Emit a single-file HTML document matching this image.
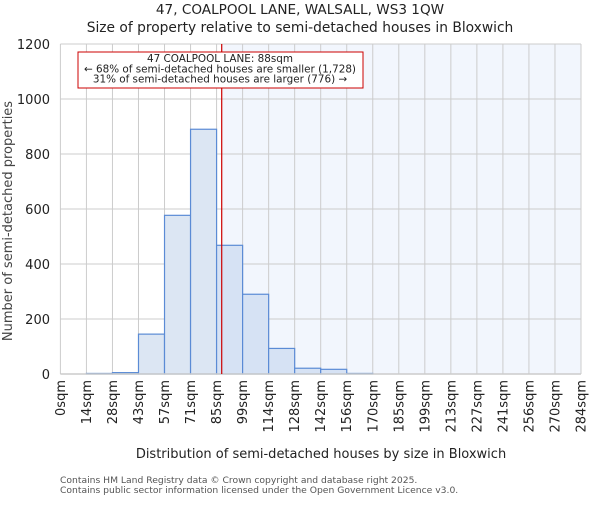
<!DOCTYPE html>
<html><head><meta charset="utf-8"><style>
body{margin:0;background:#fff;width:600px;height:500px;overflow:hidden}
svg text{font-family:"DejaVu Sans","Liberation Sans",sans-serif}
</style></head><body>
<svg id="chart" width="600" height="500" xmlns="http://www.w3.org/2000/svg">
<text x="300" y="14" text-anchor="middle" font-size="13.6" fill="#222">47, COALPOOL LANE, WALSALL, WS3 1QW</text>
<text x="300" y="32" text-anchor="middle" font-size="13.8" fill="#222">Size of property relative to semi-detached houses in Bloxwich</text>
<g id="plot"></g>
<text transform="translate(12,221) rotate(-90)" text-anchor="middle" font-size="13" fill="#444">Number of semi-detached properties</text>
<text x="321" y="458" text-anchor="middle" font-size="13" fill="#222">Distribution of semi-detached houses by size in Bloxwich</text>
<text x="60" y="483" font-size="9.2" fill="#555">Contains HM Land Registry data © Crown copyright and database right 2025.</text>
<text x="60" y="493" font-size="9.2" fill="#555">Contains public sector information licensed under the Open Government Licence v3.0.</text>
</svg>
<script>
const binEdges=[0,14,28,43,57,71,85,99,114,128,142,156,170,185,199,213,227,241,256,270,284];
const tickLabels=["0sqm","14sqm","28sqm","43sqm","57sqm","71sqm","85sqm","99sqm","114sqm","128sqm","142sqm","156sqm","170sqm","185sqm","199sqm","213sqm","227sqm","241sqm","256sqm","270sqm","284sqm"];
const counts=[0,2,5,145,577,890,468,290,93,21,17,2,0,0,0,0,0,0,0,0];
const yTicks=[0,200,400,600,800,1000,1200];
const propertySize=88;
const xMax=284, yMax=1200;
const L=60.4,R=581,T=44,B=374;
const NS="http://www.w3.org/2000/svg";
const g=document.getElementById('plot');
function xs(i){return L+(R-L)*i/(binEdges.length-1);}
function xv(v){return L+(R-L)*v/xMax;}
function ys(v){return B-(B-T)*v/yMax;}
function mk(t,a){const e=document.createElementNS(NS,t);for(const k in a)e.setAttribute(k,a[k]);g.appendChild(e);return e;}
const px=xv(propertySize);
let e=mk('rect',{x:px,y:T,width:R-px,height:B-T,fill:'#f2f6fd'});


yTicks.forEach(t=>{
 let l=mk('line',{x1:L,x2:R,y1:ys(t),y2:ys(t),stroke:'#ccc','stroke-width':1});
 
 
 let tx=mk('text',{x:50,y:ys(t)+5,'text-anchor':'end','font-size':13,fill:'#222'});
 tx.textContent=t;
 
 
});
binEdges.forEach((b,i)=>{
 let l=mk('line',{x1:xs(i),x2:xs(i),y1:T,y2:B,stroke:'#ccc','stroke-width':1});
 
 
 let tx=mk('text',{transform:`translate(${xs(i)+4.5},${B+6}) rotate(-90)`,'text-anchor':'end','font-size':13,fill:'#222'});
 tx.textContent=tickLabels[i];
 
 
});
counts.forEach((c,i)=>{
 if(c<=0)return;
 const x0=xs(i),x1=xs(i+1);
 let r=mk('rect',{x:x0,y:ys(c),width:x1-x0,height:B-ys(c),fill:x0>=px-10?'#d6e2f4':'#dce6f3',stroke:'#5b8bd5','stroke-width':1.2});
 
 
});
let ax=mk('line',{x1:L,x2:R,y1:B,y2:B,stroke:'#ccc','stroke-width':1.5});


let rl=mk('line',{x1:px,x2:px,y1:T,y2:B,stroke:'#c00','stroke-width':1.2});


let bx=mk('rect',{x:78,y:52,width:285,height:36,fill:'#fff',stroke:'#c00','stroke-width':1});


["47 COALPOOL LANE: 88sqm","← 68% of semi-detached houses are smaller (1,728)","31% of semi-detached houses are larger (776) →"].forEach((s,i)=>{
 let t=mk('text',{x:220,y:62+i*10.3,'text-anchor':'middle','font-size':10.4,fill:'#222'});
 t.textContent=s;
 
 
});
</script>
</body></html>
